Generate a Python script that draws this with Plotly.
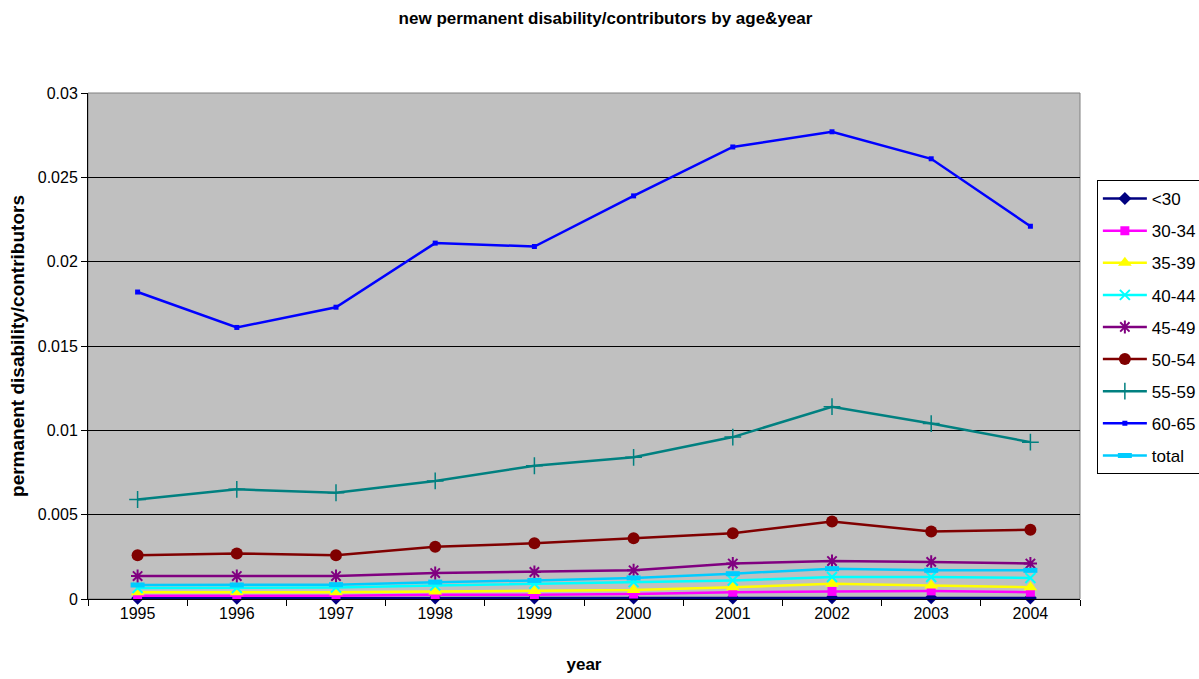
import plotly.graph_objects as go

years = ["1995", "1996", "1997", "1998", "1999", "2000", "2001", "2002", "2003", "2004"]

under_30 = [0.00005, 0.00005, 0.00005, 0.00006, 0.00006, 0.00006, 0.00006, 0.00007, 0.00007, 0.00006]
age_30_34 = [0.0002, 0.0002, 0.0002, 0.00025, 0.00025, 0.0003, 0.0004, 0.00045, 0.00048, 0.0004]
age_35_39 = [0.0004, 0.0004, 0.0004, 0.00045, 0.00048, 0.00053, 0.0007, 0.0009, 0.0008, 0.0007]
age_40_44 = [0.00065, 0.00065, 0.00068, 0.0008, 0.0009, 0.001, 0.0011, 0.0013, 0.0013, 0.00125]
age_45_49 = [0.00136, 0.00136, 0.00136, 0.00154, 0.0016, 0.0017, 0.0021, 0.00225, 0.0022, 0.0021]
age_50_54 = [0.0026, 0.0027, 0.0026, 0.0031, 0.0033, 0.0036, 0.0039, 0.0046, 0.0040, 0.0041]
age_55_59 = [0.0059, 0.0065, 0.0063, 0.0070, 0.0079, 0.0084, 0.0096, 0.0114, 0.0104, 0.0093]
age_60_65 = [0.0182, 0.0161, 0.0173, 0.0211, 0.0209, 0.0239, 0.0268, 0.0277, 0.0261, 0.0221]
total = [0.00083, 0.00083, 0.00085, 0.001, 0.0011, 0.00125, 0.0015, 0.0018, 0.0017, 0.0017]

series = [
    ("<30", under_30, "#000080", "diamond", 10, 0),
    ("30-34", age_30_34, "#FF00FF", "square", 9, 0),
    ("35-39", age_35_39, "#FFFF00", "triangle-up", 12, 0),
    ("40-44", age_40_44, "#00FFFF", "x-thin-open", 10, 2),
    ("45-49", age_45_49, "#800080", "asterisk-open", 11, 2),
    ("50-54", age_50_54, "#800000", "circle", 12, 0),
    ("55-59", age_55_59, "#008080", "cross-thin-open", 12, 1.5),
    ("60-65", age_60_65, "#0000FF", "square", 5, 0),
    ("total", total, "#00CCFF", "line-ew-open", 10, 5),
]

fig = go.Figure()
for name, vals, color, symbol, size, lw in series:
    marker = dict(symbol=symbol, size=size, color=color)
    if lw:
        marker["line"] = dict(color=color, width=lw)
    fig.add_trace(go.Scatter(
        x=years, y=vals, name=name, mode="lines+markers",
        line=dict(color=color, width=2.5),
        marker=marker, cliponaxis=False, legendgroup=name,
    ))

font_family = "Liberation Sans, Arial, sans-serif"

fig.update_layout(
    width=1199, height=679,
    margin=dict(l=88, r=119, t=93, b=80, autoexpand=False),
    paper_bgcolor="white",
    plot_bgcolor="#C0C0C0",
    font=dict(family=font_family, size=16, color="black"),
    title=dict(
        text="<b>new permanent disability/contributors by age&year</b>",
        font=dict(size=17), x=0.505, xanchor="center", y=0.982, yanchor="top",
    ),
    showlegend=True,
    legend=dict(
        x=1.017, xanchor="left", y=0.828, yanchor="top",
        bordercolor="black", borderwidth=1, bgcolor="white",
        font=dict(size=17), tracegroupgap=7, itemwidth=44,
    ),
    xaxis=dict(
        type="category", range=[-0.5, 9.5],
        showline=True, linecolor="black", linewidth=1,
        ticks="outside", tickson="boundaries", ticklen=6, tickcolor="black",
        showgrid=False,
        title=dict(text="<b>year</b>", font=dict(size=17), standoff=36),
    ),
    yaxis=dict(
        range=[0, 0.03], dtick=0.005,
        showline=True, linecolor="black", linewidth=1,
        ticks="outside", ticklen=6, tickcolor="black",
        showgrid=True, gridcolor="black", gridwidth=1,
        zeroline=False,
        title=dict(text="<b>permanent disability/contributors</b>", font=dict(size=19), standoff=8),
    ),
)

fig.add_shape(type="rect", xref="paper", yref="paper", x0=0, y0=0, x1=1, y1=1,
              line=dict(color="#808080", width=1), layer="below")

fig.write_html("out.html")
